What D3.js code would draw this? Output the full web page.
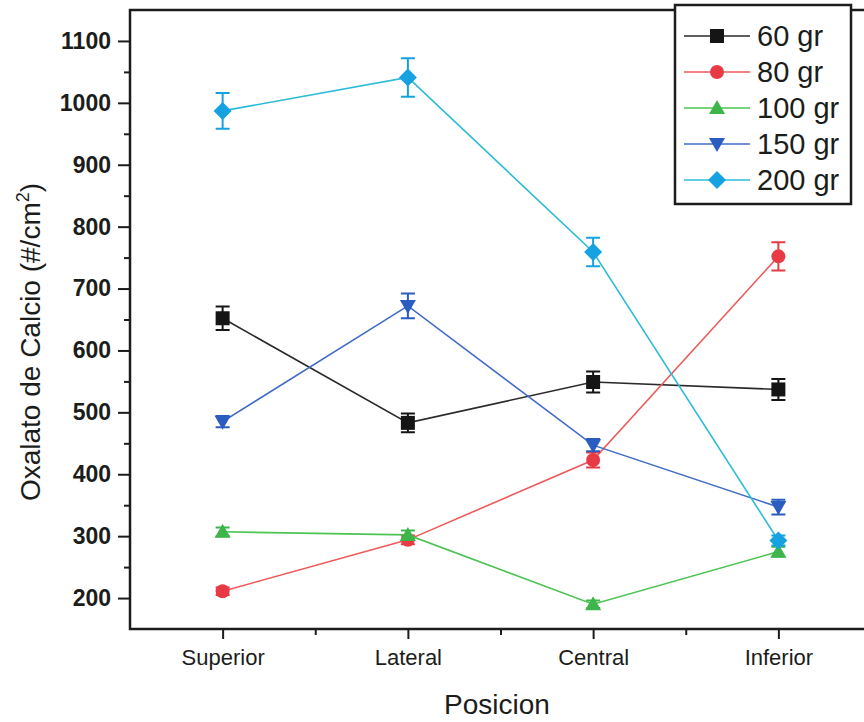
<!DOCTYPE html>
<html>
<head>
<script src="https://d3js.org/d3.v7.min.js"></script>
<style>
body { margin: 0; background: #fff; }
svg { display: block; font-family: "Liberation Sans", Arial, sans-serif; }
.axis path, .axis line { stroke: #1b1d1b; }
</style>
</head>
<body>
<svg width="864" height="722"></svg>
<script>

const categories = ["Superior", "Lateral", "Central", "Inferior"];
const seriesNames = ["60 gr", "80 gr", "100 gr", "150 gr", "200 gr"];
const v60  = [652, 483, 549, 537];
const e60  = [19, 15, 17, 17];
const v80  = [211, 294, 423, 752];
const e80  = [6, 7, 12, 23];
const v100 = [307, 302, 190, 275];
const e100 = [7, 7, 6, 8];
const v150 = [485, 672, 447, 347];
const e150 = [9, 20, 10, 12];
const v200 = [987, 1041, 759, 293];
const e200 = [29, 31, 23, 8];
const yTicks = [200, 300, 400, 500, 600, 700, 800, 900, 1000, 1100];

const series = [
  {name: seriesNames[0], values: v60,  errors: e60,  line: "#2a2a2a", fill: "#151515", symbol: "square"},
  {name: seriesNames[1], values: v80,  errors: e80,  line: "#ee5a5a", fill: "#e83a44", symbol: "circle"},
  {name: seriesNames[2], values: v100, errors: e100, line: "#4cc452", fill: "#3db54a", symbol: "up"},
  {name: seriesNames[3], values: v150, errors: e150, line: "#3f6cc8", fill: "#2b5cc0", symbol: "down"},
  {name: seriesNames[4], values: v200, errors: e200, line: "#2cbcd8", fill: "#16a2e0", symbol: "diamond"}
];

var svg = d3.select("svg"),
    pLeft = 130, pTop = 10, pRight = 871, pBottom = 629;

var x = d3.scaleLinear().domain([0.5, 4.5]).range([pLeft, pRight]);
var y = d3.scaleLinear().domain([150, 1150]).range([pBottom, pTop]);

function symbolPath(type, s) {
  var h = s / 2;
  if (type == "square") return "M" + -h + "," + -h + "h" + s + "v" + s + "h" + -s + "Z";
  if (type == "circle") return d3.symbol().type(d3.symbolCircle).size(Math.PI * h * h)();
  if (type == "up") return "M0," + (-h - 1) + "L" + (h + 1) + "," + (h - 1) + "L" + (-h - 1) + "," + (h - 1) + "Z";
  if (type == "down") return "M0," + (h + 1) + "L" + (h + 1) + "," + (-h + 1) + "L" + (-h - 1) + "," + (-h + 1) + "Z";
  if (type == "diamond") return "M0," + (-h - 2) + "L" + (h + 2) + ",0L0," + (h + 2) + "L" + (-h - 2) + ",0Z";
}

// y axis (major + minor ticks)
svg.append("g")
    .attr("class", "axis")
    .attr("transform", "translate(" + pLeft + ",0)")
    .call(d3.axisLeft(y).tickValues(d3.range(250, 1150, 100)).tickSize(6).tickFormat(""))
    .call(function(g) { g.select(".domain").remove(); })
    .selectAll("line").attr("stroke-width", 2);

var ya = svg.append("g")
    .attr("class", "axis")
    .attr("transform", "translate(" + pLeft + ",0)")
    .call(d3.axisLeft(y).tickValues(yTicks).tickSize(12).tickPadding(7).tickFormat(d3.format("d")));
ya.select(".domain").remove();
ya.selectAll("line").attr("stroke-width", 2);
ya.selectAll("text").attr("font-size", 23).attr("font-weight", "bold").attr("fill", "#1b1d1b")
    .attr("font-family", "'Liberation Sans', Arial, sans-serif");

// x axis
svg.append("g")
    .attr("class", "axis")
    .attr("transform", "translate(0," + pBottom + ")")
    .call(d3.axisBottom(x).tickValues([1.5, 2.5, 3.5]).tickSize(6).tickFormat(""))
    .call(function(g) { g.select(".domain").remove(); })
    .selectAll("line").attr("stroke-width", 2);

var xa = svg.append("g")
    .attr("class", "axis")
    .attr("transform", "translate(0," + pBottom + ")")
    .call(d3.axisBottom(x).tickValues([1, 2, 3, 4]).tickSize(10).tickPadding(10)
      .tickFormat(function(d) { return categories[d - 1]; }));
xa.select(".domain").remove();
xa.selectAll("line").attr("stroke-width", 2);
xa.selectAll("text").attr("font-size", 22).attr("fill", "#1b1d1b")
    .attr("font-family", "'Liberation Sans', Arial, sans-serif");

// frame
svg.append("rect")
    .attr("x", pLeft).attr("y", pTop)
    .attr("width", pRight - pLeft).attr("height", pBottom - pTop)
    .attr("fill", "none").attr("stroke", "#1b1d1b").attr("stroke-width", 2.5);

// axis titles
svg.append("text")
    .attr("x", 497).attr("y", 714)
    .attr("text-anchor", "middle").attr("font-size", 28).attr("fill", "#1b1d1b")
    .text("Posicion");

var yl = svg.append("text")
    .attr("transform", "translate(40,342) rotate(-90)")
    .attr("text-anchor", "middle").attr("font-size", 28).attr("fill", "#1b1d1b");
yl.append("tspan").text("Oxalato de Calcio (#/cm");
yl.append("tspan").attr("font-size", 18).attr("dy", -11).text("2");
yl.append("tspan").attr("dy", 11).text(")");

// series
var line = d3.line()
    .x(function(d, i) { return x(i + 1); })
    .y(function(d) { return y(d); });

series.forEach(function(s) {
  var g = svg.append("g");
  g.append("path")
      .attr("d", line(s.values))
      .attr("fill", "none").attr("stroke", s.line).attr("stroke-width", 1.6);

  var pts = g.selectAll(".pt")
      .data(s.values.map(function(v, i) { return {v: v, e: s.errors[i], i: i}; }))
      .enter().append("g")
      .attr("transform", function(d) { return "translate(" + x(d.i + 1) + ",0)"; });

  pts.append("path")
      .attr("d", function(d) {
        var t = y(d.v + d.e), b = y(d.v - d.e);
        return "M-7," + t + "H7M0," + t + "V" + b + "M-7," + b + "H7";
      })
      .attr("fill", "none").attr("stroke", s.fill).attr("stroke-width", 2);

  pts.append("path")
      .attr("transform", function(d) { return "translate(0," + y(d.v) + ")"; })
      .attr("d", symbolPath(s.symbol, 14))
      .attr("fill", s.fill);
});

// legend
var lg = svg.append("g");
lg.append("rect")
    .attr("x", 675).attr("y", 5).attr("width", 176).attr("height", 199)
    .attr("fill", "#fff").attr("stroke", "#1b1d1b").attr("stroke-width", 2.5);

var item = lg.selectAll(".item")
    .data(series)
    .enter().append("g")
    .attr("transform", function(d, i) { return "translate(0," + (36 + i * 36) + ")"; });

item.append("line")
    .attr("x1", 684).attr("x2", 750)
    .attr("stroke", function(d) { return d.line; }).attr("stroke-width", 1.6);

item.append("path")
    .attr("transform", "translate(717,0)")
    .attr("d", function(d) { return symbolPath(d.symbol, 14); })
    .attr("fill", function(d) { return d.fill; });

item.append("text")
    .attr("x", 757).attr("dy", "0.36em")
    .attr("font-size", 29).attr("fill", "#1b1d1b")
    .text(function(d) { return d.name; });

</script>
</body>
</html>
